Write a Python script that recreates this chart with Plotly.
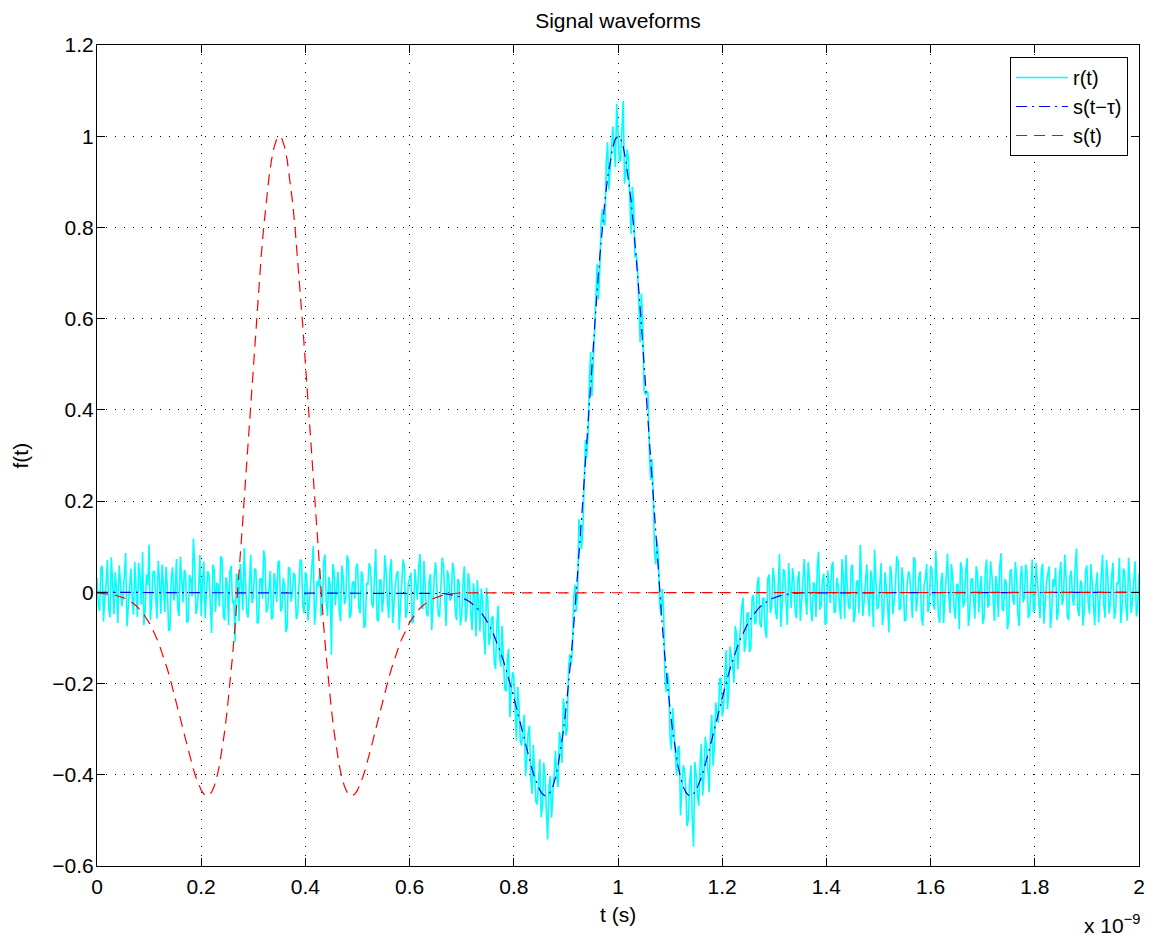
import plotly.graph_objects as go

# ---------------- data (time in units of 1e-9 s) ----------------
x_ticks = [0, 0.2, 0.4, 0.6, 0.8, 1.0, 1.2, 1.4, 1.6, 1.8, 2.0]
x_tick_labels = ["0", "0.2", "0.4", "0.6", "0.8", "1", "1.2", "1.4", "1.6", "1.8", "2"]
y_ticks = [-0.6, -0.4, -0.2, 0, 0.2, 0.4, 0.6, 0.8, 1.0, 1.2]
y_tick_labels = ["\u22120.6", "\u22120.4", "\u22120.2", "0", "0.2", "0.4", "0.6", "0.8", "1", "1.2"]

# received signal r(t), sampled every 0.0025 ns from 0 to 2 ns
r_vals = [
    0.032, -0.027, -0.041, 0.053, 0.058, -0.064, -0.012, 0.018, 0.071, -0.036, -0.055, 0.077, 0.019, -0.048, 0.044, 0.009, -0.067, 0.059, 0.023, -0.031,
    -0.008, 0.042, 0.086, -0.075, -0.034, 0.021, 0.052, -0.013, -0.049, 0.067, 0.011, -0.054, 0.064, 0.035, -0.027, 0.088, -0.072, -0.039, 0.039, 0.016,
    0.105, -0.061, -0.018, 0.044, 0.047, -0.022, -0.058, 0.069, 0.026, -0.047, 0.061, 0.012, -0.043, 0.056, 0.014, -0.085, -0.081, 0.031, 0.055, -0.018,
    0.003, 0.073, -0.036, -0.052, 0.078, 0.027, -0.022, 0.049, 0.041, -0.066, -0.063, 0.038, 0.029, -0.009, 0.118, 0.063, -0.047, -0.034, 0.009, 0.082,
    -0.052, 0.024, 0.067, -0.057, -0.015, 0.046, 0.038, -0.029, -0.089, 0.061, 0.048, -0.043, 0.021, 0.015, -0.031, 0.079, 0.074, -0.051, -0.061, 0.033,
    0.017, -0.072, 0.046, 0.058, -0.024, -0.017, -0.108, 0.041, 0.035, -0.063, 0.062, 0.022, -0.039, 0.097, 0.027, -0.045, -0.055, 0.036, 0.083, -0.024,
    -0.011, 0.052, 0.049, -0.068, -0.066, 0.028, 0.031, -0.014, 0.092, 0.074, -0.044, -0.036, 0.006, 0.047, -0.059, -0.055, 0.042, 0.019, -0.021, 0.066,
    0.069, -0.042, -0.035, 0.031, 0.015, -0.087, -0.077, 0.054, 0.053, -0.021, -0.003, 0.043, 0.037, -0.059, -0.048, 0.011, 0.072, 0.068, -0.029, -0.046,
    0.044, 0.037, -0.062, -0.023, 0.025, 0.058, 0.101, -0.071, -0.038, 0.025, 0.013, 0.049, -0.052, -0.038, 0.066, 0.083, -0.019, -0.052, 0.034, 0.016,
    -0.137, 0.062, 0.047, -0.029, 0.008, 0.045, -0.041, -0.064, 0.059, 0.034, -0.026, -0.015, 0.081, 0.071, -0.057, -0.049, 0.022, 0.023, -0.014, 0.055,
    0.063, -0.033, -0.046, 0.046, 0.036, -0.078, -0.071, 0.019, 0.018, 0.064, 0.054, -0.026, -0.033, 0.038, 0.095, -0.058, -0.064, 0.027, 0.027, -0.044,
    -0.009, 0.081, 0.045, -0.019, -0.056, 0.052, 0.073, -0.067, -0.023, 0.013, 0.039, 0.047, -0.082, -0.035, 0.012, 0.072, 0.057, -0.056, -0.043, 0.021,
    0.028, 0.043, -0.068, -0.062, 0.051, 0.017, -0.016, 0.057, 0.084, -0.028, -0.037, 0.069, 0.019, -0.047, -0.053, 0.024, 0.040, -0.083, -0.025, 0.039,
    0.066, 0.011, -0.048, -0.054, 0.007, 0.076, 0.058, -0.032, -0.074, 0.048, 0.033, -0.018, -0.012, 0.065, 0.049, -0.041, -0.061, 0.029, 0.024, -0.072,
    -0.051, 0.021, 0.057, -0.065, -0.044, 0.042, 0.023, -0.046, -0.083, 0.020, -0.013, -0.097, 0.027, -0.020, -0.086, 0.008, -0.018, -0.090, -0.136, 0.010,
    -0.014, -0.116, -0.095, -0.057, -0.052, -0.154, -0.168, -0.070, -0.029, -0.141, -0.163, -0.074, -0.129, -0.211, -0.217, -0.147, -0.124, -0.274, -0.217, -0.175,
    -0.184, -0.263, -0.325, -0.207, -0.248, -0.327, -0.336, -0.298, -0.268, -0.403, -0.367, -0.308, -0.292, -0.405, -0.442, -0.334, -0.392, -0.460, -0.465, -0.406,
    -0.366, -0.493, -0.471, -0.373, -0.405, -0.480, -0.542, -0.424, -0.403, -0.494, -0.436, -0.375, -0.347, -0.405, -0.427, -0.306, -0.323, -0.374, -0.233, -0.253,
    -0.314, -0.301, -0.169, -0.136, -0.160, -0.126, -0.012, 0.017, -0.042, -0.004, 0.160, 0.144, 0.095, 0.138, 0.270, 0.334, 0.296, 0.345, 0.465, 0.527,
    0.430, 0.506, 0.599, 0.638, 0.719, 0.642, 0.707, 0.810, 0.840, 0.807, 0.806, 0.945, 0.987, 0.883, 0.932, 0.995, 1.021, 0.973, 0.932, 1.071,
    1.018, 0.945, 0.947, 1.012, 1.078, 0.896, 0.917, 0.971, 0.951, 0.866, 0.785, 0.889, 0.854, 0.734, 0.744, 0.710, 0.624, 0.548, 0.655, 0.590,
    0.444, 0.433, 0.440, 0.437, 0.318, 0.246, 0.292, 0.223, 0.091, 0.061, 0.114, 0.076, -0.023, -0.051, 0.008, -0.038, -0.185, -0.219, -0.176, -0.198,
    -0.319, -0.345, -0.253, -0.308, -0.361, -0.402, -0.341, -0.337, -0.489, -0.440, -0.379, -0.387, -0.427, -0.513, -0.499, -0.417, -0.379, -0.496, -0.557, -0.372,
    -0.399, -0.445, -0.468, -0.376, -0.332, -0.446, -0.407, -0.317, -0.340, -0.390, -0.438, -0.312, -0.268, -0.380, -0.337, -0.241, -0.260, -0.286, -0.190, -0.188,
    -0.272, -0.256, -0.183, -0.127, -0.256, -0.222, -0.119, -0.140, -0.163, -0.198, -0.074, -0.090, -0.169, -0.120, -0.071, -0.033, -0.012, -0.131, -0.113, -0.046,
    -0.045, -0.131, -0.122, -0.011, -0.006, -0.070, -0.065, 0.020, 0.034, -0.069, -0.077, -0.013, -0.013, -0.085, -0.100, 0.030, 0.039, -0.045, -0.032, 0.054,
    0.027, -0.043, -0.059, 0.022, 0.084, -0.076, -0.027, 0.051, 0.045, -0.018, -0.071, 0.064, 0.016, -0.035, 0.053, 0.028, -0.042, -0.057, 0.029, 0.046,
    -0.063, -0.013, 0.047, 0.073, -0.011, -0.049, 0.066, 0.031, -0.035, -0.064, 0.022, 0.017, -0.054, 0.055, 0.089, -0.038, -0.028, 0.026, 0.041, -0.071,
    -0.066, 0.048, 0.019, -0.024, 0.057, 0.067, -0.045, -0.042, 0.032, 0.015, -0.023, -0.059, 0.073, 0.036, -0.058, 0.082, 0.014, -0.031, -0.037, 0.053,
    0.061, -0.066, -0.049, 0.021, 0.027, -0.045, 0.104, 0.039, -0.052, -0.017, 0.036, 0.061, -0.017, -0.053, 0.048, 0.028, -0.076, 0.094, 0.025, -0.037,
    -0.031, 0.019, 0.064, -0.072, -0.046, 0.044, 0.012, -0.026, -0.088, 0.058, 0.043, -0.048, -0.021, 0.013, 0.079, 0.069, -0.039, -0.035, 0.055, 0.027,
    -0.062, -0.061, 0.018, 0.046, 0.037, -0.019, -0.056, 0.077, 0.071, -0.042, -0.014, 0.031, 0.046, -0.055, -0.073, 0.016, 0.029, 0.062, -0.044, -0.029,
    0.058, 0.051, -0.026, -0.038, 0.091, 0.024, -0.051, -0.067, 0.023, 0.043, -0.067, -0.012, 0.044, 0.085, -0.009, -0.046, 0.062, 0.032, -0.034, -0.058,
    0.017, 0.017, -0.081, 0.066, 0.053, -0.033, -0.022, 0.049, 0.075, -0.074, -0.047, 0.028, 0.031, -0.021, -0.058, 0.057, 0.042, -0.044, 0.013, 0.036,
    -0.069, -0.059, 0.047, 0.072, -0.033, -0.025, 0.068, 0.041, -0.018, -0.063, 0.036, 0.018, -0.054, 0.054, 0.086, -0.037, -0.041, 0.029, 0.022, -0.081,
    -0.063, 0.046, 0.051, -0.014, -0.027, 0.067, 0.039, -0.049, -0.074, 0.033, 0.058, -0.022, -0.012, 0.061, 0.045, -0.056, -0.049, 0.024, 0.072, -0.043,
    -0.036, 0.065, 0.019, -0.031, -0.057, 0.048, 0.063, -0.069, -0.024, 0.022, 0.041, 0.057, -0.078, -0.045, 0.029, 0.013, 0.054, -0.061, -0.043, 0.039,
    0.067, -0.027, -0.015, 0.083, 0.033, -0.052, -0.061, 0.034, 0.048, -0.016, -0.029, 0.059, 0.096, -0.038, -0.052, 0.026, 0.021, -0.073, -0.038, 0.047,
    0.059, -0.024, -0.047, 0.062, 0.026, -0.041, -0.072, 0.017, 0.044, -0.066, -0.011, 0.053, 0.083, -0.029, -0.056, 0.071, 0.037, -0.047, -0.024, 0.035,
    0.065, -0.058, -0.042, 0.021, 0.018, 0.076, -0.067, -0.034, 0.052, 0.044, -0.031, -0.062, 0.076, 0.027, -0.045, -0.019, 0.028, 0.068, -0.053, -0.036,
    0.041,
]
r_t = [round(i * 0.0025, 4) for i in range(len(r_vals))]

# transmitted pulse s(t), sampled every 0.005 ns from 0 to 0.7 ns, then zero to 2 ns
s_vals = [
    -0.0012, -0.0016, -0.0020, -0.0026, -0.0032, -0.0041, -0.0050, -0.0063, -0.0077, -0.0094,
    -0.0115, -0.0140, -0.0170, -0.0205, -0.0246, -0.0294, -0.0349, -0.0413, -0.0487, -0.0570,
    -0.0664, -0.0770, -0.0889, -0.1021, -0.1166, -0.1324, -0.1496, -0.1681, -0.1879, -0.2088,
    -0.2307, -0.2534, -0.2765, -0.3000, -0.3233, -0.3460, -0.3677, -0.3879, -0.4060, -0.4215,
    -0.4338, -0.4422, -0.4461, -0.4449, -0.4381, -0.4253, -0.4058, -0.3795, -0.3461, -0.3054,
    -0.2575, -0.2027, -0.1411, -0.0733, 0.0000, 0.0780, 0.1598, 0.2443, 0.3302, 0.4163,
    0.5013, 0.5836, 0.6619, 0.7348, 0.8010, 0.8593, 0.9087, 0.9480, 0.9767, 0.9941,
    1.0000,
    0.9941, 0.9767, 0.9480, 0.9087, 0.8593, 0.8010, 0.7348, 0.6619, 0.5836, 0.5013,
    0.4163, 0.3302, 0.2443, 0.1598, 0.0780, 0.0000, -0.0733, -0.1411, -0.2027, -0.2575,
    -0.3054, -0.3461, -0.3795, -0.4058, -0.4253, -0.4381, -0.4449, -0.4461, -0.4422, -0.4338,
    -0.4215, -0.4060, -0.3879, -0.3677, -0.3460, -0.3233, -0.3000, -0.2765, -0.2534, -0.2307,
    -0.2088, -0.1879, -0.1681, -0.1496, -0.1324, -0.1166, -0.1021, -0.0889, -0.0770, -0.0664,
    -0.0570, -0.0487, -0.0413, -0.0349, -0.0294, -0.0246, -0.0205, -0.0170, -0.0140, -0.0115,
    -0.0094, -0.0077, -0.0063, -0.0050, -0.0041, -0.0032, -0.0026, -0.0020, -0.0016, -0.0012,
    0.0,
]
s_t = [round(i * 0.005, 3) for i in range(141)] + [2.0]

# delayed pulse s(t - tau), tau = 0.65 ns: zero, pulse over 0.65..1.35 ns, zero
sd_vals = [
    0.0,
    -0.0012, -0.0016, -0.0020, -0.0026, -0.0032, -0.0041, -0.0050, -0.0063, -0.0077, -0.0094,
    -0.0115, -0.0140, -0.0170, -0.0205, -0.0246, -0.0294, -0.0349, -0.0413, -0.0487, -0.0570,
    -0.0664, -0.0770, -0.0889, -0.1021, -0.1166, -0.1324, -0.1496, -0.1681, -0.1879, -0.2088,
    -0.2307, -0.2534, -0.2765, -0.3000, -0.3233, -0.3460, -0.3677, -0.3879, -0.4060, -0.4215,
    -0.4338, -0.4422, -0.4461, -0.4449, -0.4381, -0.4253, -0.4058, -0.3795, -0.3461, -0.3054,
    -0.2575, -0.2027, -0.1411, -0.0733, 0.0000, 0.0780, 0.1598, 0.2443, 0.3302, 0.4163,
    0.5013, 0.5836, 0.6619, 0.7348, 0.8010, 0.8593, 0.9087, 0.9480, 0.9767, 0.9941,
    1.0000,
    0.9941, 0.9767, 0.9480, 0.9087, 0.8593, 0.8010, 0.7348, 0.6619, 0.5836, 0.5013,
    0.4163, 0.3302, 0.2443, 0.1598, 0.0780, 0.0000, -0.0733, -0.1411, -0.2027, -0.2575,
    -0.3054, -0.3461, -0.3795, -0.4058, -0.4253, -0.4381, -0.4449, -0.4461, -0.4422, -0.4338,
    -0.4215, -0.4060, -0.3879, -0.3677, -0.3460, -0.3233, -0.3000, -0.2765, -0.2534, -0.2307,
    -0.2088, -0.1879, -0.1681, -0.1496, -0.1324, -0.1166, -0.1021, -0.0889, -0.0770, -0.0664,
    -0.0570, -0.0487, -0.0413, -0.0349, -0.0294, -0.0246, -0.0205, -0.0170, -0.0140, -0.0115,
    -0.0094, -0.0077, -0.0063, -0.0050, -0.0041, -0.0032, -0.0026, -0.0020, -0.0016, -0.0012,
    0.0,
]
sd_t = [0.0] + [round(0.65 + i * 0.005, 3) for i in range(141)] + [2.0]

# ---------------- figure ----------------
FONT = "Liberation Sans, Arial, Helvetica, sans-serif"
W, H = 1148, 930            # page body has an 8px default margin
ML, MT, MR, MB = 89, 37, 17, 72
PW, PH = W - ML - MR, H - MT - MB

fig = go.Figure()
fig.add_trace(go.Scatter(x=r_t, y=r_vals, mode="lines", name="r(t)",
                         line=dict(color="#00FFFF", width=1.6)))
fig.add_trace(go.Scatter(x=sd_t, y=sd_vals, mode="lines", name="s(t\u2212\u03c4)",
                         line=dict(color="#0000FF", width=1.2, dash="11px,5px,2px,5px")))
fig.add_trace(go.Scatter(x=s_t, y=s_vals, mode="lines", name="s(t)",
                         line=dict(color="#FF0000", width=1.2, dash="11px,7px")))

axis_common = dict(
    showline=True, linecolor="black", linewidth=1, mirror="ticks",
    ticks="inside", ticklen=8, tickcolor="black", tickwidth=1,
    showgrid=True, gridcolor="black", gridwidth=1, griddash="1px,8px",
    zeroline=False,
    tickfont=dict(family=FONT, size=21, color="black"),
)

fig.update_xaxes(range=[0, 2], tickvals=x_ticks, ticktext=x_tick_labels,
                 ticklabelstandoff=2, **axis_common)
fig.update_yaxes(range=[-0.6, 1.2], tickvals=y_ticks, ticktext=y_tick_labels,
                 ticklabelstandoff=-2, **axis_common)

fig.update_layout(
    width=W, height=H,
    margin=dict(l=ML, r=MR, t=MT, b=MB),
    paper_bgcolor="white", plot_bgcolor="white",
    font=dict(family=FONT, size=21, color="black"),
    title=dict(text="Signal waveforms", x=0.5, xref="paper", xanchor="center",
               y=1 - 13 / H, yref="container", yanchor="middle",
               font=dict(family=FONT, size=21, color="black")),
    showlegend=True,
    legend=dict(x=(1120 - ML) / PW, y=1 - (49 - MT) / PH, xanchor="right", yanchor="top",
                bgcolor="white", bordercolor="black", borderwidth=1,
                font=dict(family=FONT, size=20, color="black"),
                tracegroupgap=0, itemwidth=52),
    annotations=[
        dict(text="t (s)", x=0.5, y=-(907 - (H - MB)) / PH, xref="paper", yref="paper",
             xanchor="center", yanchor="middle", showarrow=False,
             font=dict(family=FONT, size=21, color="black")),
        dict(text="f(t)", x=(12 - ML) / PW, y=0.5, xref="paper", yref="paper",
             xanchor="center", yanchor="middle", showarrow=False, textangle=-90,
             font=dict(family=FONT, size=21, color="black")),
        dict(text="x 10<sup>\u22129</sup>", x=(1134 - ML) / PW, y=-(916 - (H - MB)) / PH,
             xref="paper", yref="paper", xanchor="right", yanchor="middle", showarrow=False,
             font=dict(family=FONT, size=21, color="black")),
    ],
)

fig.write_html("out.html")
